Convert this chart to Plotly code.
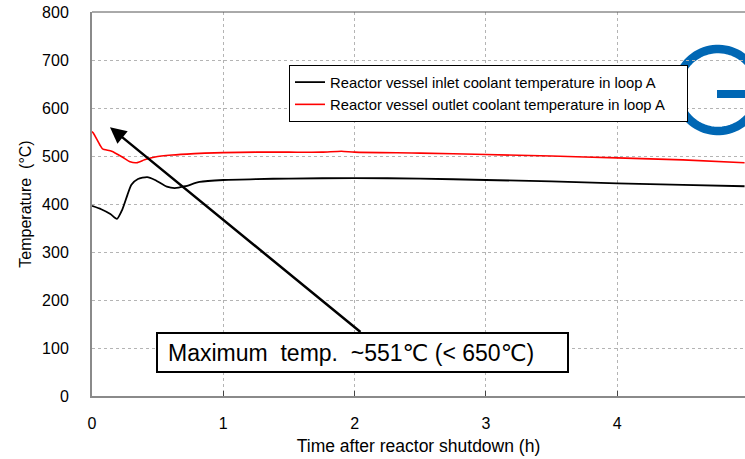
import numpy as np
import plotly.graph_objects as go

# ---- data ----
t_inlet = [0, 0.07, 0.14, 0.19, 0.23, 0.27, 0.30, 0.35, 0.42, 0.48, 0.57, 0.63, 0.71, 0.82,
           1.0, 1.25, 1.5, 2.0, 2.5, 3.0, 3.5, 4.0, 4.5, 4.97]
T_inlet = [396, 389, 379, 369, 388, 419, 440, 452, 456, 450, 436, 433, 437, 446,
           450, 452, 453, 454, 453, 450, 447, 443, 440, 437]

t_outlet = [0, 0.01, 0.06, 0.08, 0.15, 0.23, 0.29, 0.34, 0.40, 0.48, 0.61, 0.78, 0.86,
            1.0, 1.25, 1.5, 1.75, 1.9, 2.0, 2.5, 3.0, 3.5, 4.0, 4.5, 4.97]
T_outlet = [551, 548, 523, 515, 510, 498, 488, 486, 492, 498, 502, 505, 506,
            507, 508, 508, 508, 510, 508, 506, 503, 500, 496, 492, 486]

x_ticks = [0, 1, 2, 3, 4]
y_ticks = [0, 100, 200, 300, 400, 500, 600, 700, 800]

name_inlet = "Reactor vessel inlet coolant temperature in loop A"
name_outlet = "Reactor vessel outlet coolant temperature in loop A"
note_text = "Maximum  temp.  ~551℃ (< 650℃)"
peak_time, peak_temp = 0.137, 560

# ---- layout geometry ----
W, H = 745, 459
L, R, T, B = 92, 0, 12, 63
PW, PH = W - L - R, H - T - B


def px(xp):  # window pixel -> paper x
    return (xp - L) / PW


def py(yp):  # window pixel -> paper y
    return (H - B - yp) / PH


pad = "\u00a0" * 4

fig = go.Figure()
fig.add_trace(go.Scatter(x=t_inlet, y=T_inlet, mode="lines", name=name_inlet + pad,
                         line=dict(color="black", width=1.8, shape="spline", smoothing=0.6)))
fig.add_trace(go.Scatter(x=t_outlet, y=T_outlet, mode="lines", name=name_outlet + pad,
                         line=dict(color="red", width=1.6, shape="spline", smoothing=0.6)))

shapes = []
# "G" logo fragment (decoration)
cx, cy, rad = 718, 90, 41
ang = np.linspace(np.deg2rad(30), np.deg2rad(360), 80)
pts = [(px(cx + rad * np.cos(a)), py(cy - rad * np.sin(a))) for a in ang]
path = "M " + " L ".join(f"{a:.5f},{b:.5f}" for a, b in pts)
shapes.append(dict(type="path", xref="paper", yref="paper", path=path,
                   line=dict(color="rgb(0,103,180)", width=8.5), layer="below"))
shapes.append(dict(type="rect", xref="paper", yref="paper",
                   x0=px(717), x1=px(770), y0=py(98), y1=py(90),
                   fillcolor="rgb(0,103,180)", line=dict(width=0), layer="below"))
# top border
shapes.append(dict(type="line", xref="paper", yref="paper", x0=0, x1=1, y0=1, y1=1,
                   line=dict(color="#555555", width=1)))
# annotation box
shapes.append(dict(type="rect", xref="paper", yref="paper",
                   x0=px(157), x1=px(568), y0=py(372), y1=py(333),
                   fillcolor="white", line=dict(color="black", width=2), layer="above"))
fig.update_layout(shapes=shapes)

fig.add_annotation(x=px(166), y=py(353), xref="paper", yref="paper", text=note_text,
                   showarrow=False, xanchor="left", yanchor="middle",
                   font=dict(family="Liberation Sans, Arial, DejaVu Sans", size=23, color="black"))
fig.add_annotation(x=peak_time, y=peak_temp, xref="x", yref="y", text="",
                   showarrow=True, arrowhead=2, arrowsize=1.3, arrowwidth=2.5,
                   arrowcolor="black", ax=362 - 110, ay=333 - 127, axref="pixel", ayref="pixel")

fig.update_layout(
    width=W, height=H,
    margin=dict(l=L, r=R, t=T, b=B, autoexpand=False),
    paper_bgcolor="white", plot_bgcolor="white",
    showlegend=True,
    legend=dict(x=px(289), y=py(65), xanchor="left", yanchor="top",
                bgcolor="white", bordercolor="black", borderwidth=1,
                font=dict(family="Liberation Sans, Arial", size=14.8, color="black"),
                tracegroupgap=0),
    xaxis=dict(range=[0, PW / 131.3], tickvals=x_ticks, ticktext=[str(v) for v in x_ticks],
               showgrid=True, gridcolor="#b4b4b4", griddash="dot", gridwidth=1,
               showline=True, linecolor="#8a8a8a", linewidth=2,
               ticks="inside", ticklen=5, tickcolor="#444444", ticklabelstandoff=12,
               tickfont=dict(family="Liberation Sans, Arial", size=16, color="black"),
               title=dict(text="Time after reactor shutdown (h)", standoff=9,
                          font=dict(family="Liberation Sans, Arial", size=17.5, color="black")),
               zeroline=False, fixedrange=True, automargin=False),
    yaxis=dict(range=[0, 800], tickvals=y_ticks,
               showgrid=True, gridcolor="#b4b4b4", griddash="dot", gridwidth=1,
               showline=True, linecolor="#8a8a8a", linewidth=2,
               ticks="", ticklabelstandoff=18,
               tickfont=dict(family="Liberation Sans, Arial", size=16, color="black"),
               title=dict(text="Temperature  (°C)", standoff=6,
                          font=dict(family="Liberation Sans, Arial", size=16, color="black")),
               zeroline=False, fixedrange=True, automargin=False),
)

# remove the browser's default 8px page margin so the figure sits at the window's corner
fig.write_html("out.html", config={"displayModeBar": False},
               post_script="document.body.style.margin='0';")
